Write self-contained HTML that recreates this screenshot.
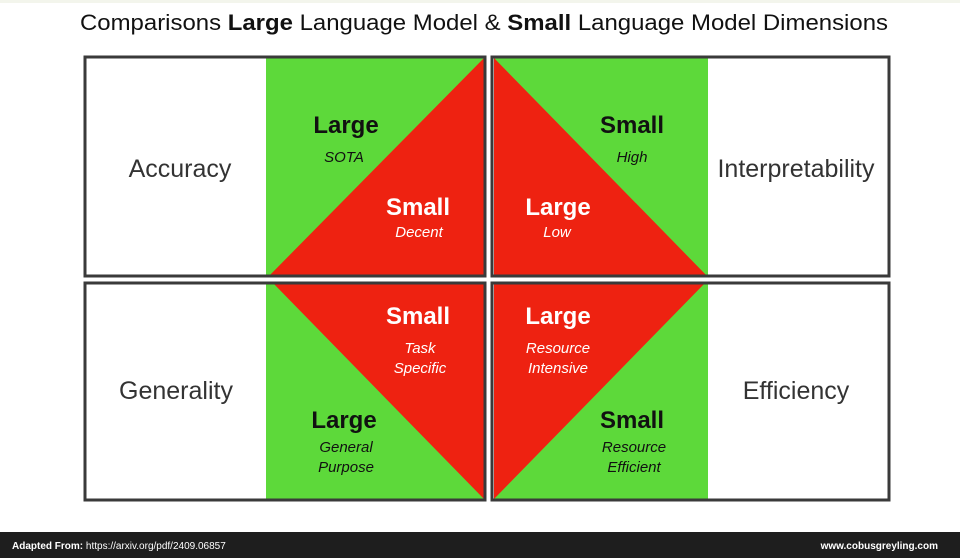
<!DOCTYPE html>
<html><head><meta charset="utf-8"><style>
html,body{margin:0;padding:0;background:#fff;}
svg{display:block;font-family:"Liberation Sans",Arial,sans-serif;}
</style></head><body>
<svg width="960" height="558" viewBox="0 0 960 558" xmlns="http://www.w3.org/2000/svg">
<rect width="960" height="558" fill="#fff"/>
<rect x="0" y="0" width="960" height="3" fill="#f3f5ec"/>
<text x="80" y="30" font-size="22" fill="#111" textLength="808" lengthAdjust="spacingAndGlyphs">Comparisons <tspan font-weight="bold">Large</tspan> Language Model &amp; <tspan font-weight="bold">Small</tspan> Language Model Dimensions</text>

<rect x="266" y="58" width="218" height="219" fill="#5dd93a"/>
<rect x="494" y="58" width="214" height="219" fill="#5dd93a"/>
<rect x="266" y="282" width="218" height="217" fill="#5dd93a"/>
<rect x="494" y="282" width="214" height="217" fill="#5dd93a"/>
<polygon points="484,58 484,277 268,277" fill="#ee2211"/>
<polygon points="494,58 494,277 708,277" fill="#ee2211"/>
<polygon points="272,282 484,282 484,499" fill="#ee2211"/>
<polygon points="494,282 706,282 494,499" fill="#ee2211"/>

<g fill="none" stroke="#3a3a3a" stroke-width="3">
<rect x="85" y="57" width="400" height="219"/>
<rect x="492" y="57" width="397" height="219"/>
<rect x="85" y="283" width="400" height="217"/>
<rect x="492" y="283" width="397" height="217"/>
</g>

<g font-size="25" fill="#333" text-anchor="middle">
<text x="180" y="177">Accuracy</text>
<text x="796" y="177">Interpretability</text>
<text x="176" y="399">Generality</text>
<text x="796" y="399">Efficiency</text>
</g>

<g text-anchor="middle">
<text x="346" y="133" font-size="24" font-weight="bold" fill="#111">Large</text>
<text x="344" y="162" font-size="15" font-style="italic" fill="#111">SOTA</text>
<text x="418" y="215" font-size="24" font-weight="bold" fill="#fff">Small</text>
<text x="419" y="237" font-size="15" font-style="italic" fill="#fff">Decent</text>

<text x="632" y="133" font-size="24" font-weight="bold" fill="#111">Small</text>
<text x="632" y="162" font-size="15" font-style="italic" fill="#111">High</text>
<text x="558" y="215" font-size="24" font-weight="bold" fill="#fff">Large</text>
<text x="557" y="237" font-size="15" font-style="italic" fill="#fff">Low</text>

<text x="418" y="324" font-size="24" font-weight="bold" fill="#fff">Small</text>
<text x="420" y="353" font-size="15" font-style="italic" fill="#fff">Task</text>
<text x="420" y="373" font-size="15" font-style="italic" fill="#fff">Specific</text>
<text x="344" y="428" font-size="24" font-weight="bold" fill="#111">Large</text>
<text x="346" y="452" font-size="15" font-style="italic" fill="#111">General</text>
<text x="346" y="472" font-size="15" font-style="italic" fill="#111">Purpose</text>

<text x="558" y="324" font-size="24" font-weight="bold" fill="#fff">Large</text>
<text x="558" y="353" font-size="15" font-style="italic" fill="#fff">Resource</text>
<text x="558" y="373" font-size="15" font-style="italic" fill="#fff">Intensive</text>
<text x="632" y="428" font-size="24" font-weight="bold" fill="#111">Small</text>
<text x="634" y="452" font-size="15" font-style="italic" fill="#111">Resource</text>
<text x="634" y="472" font-size="15" font-style="italic" fill="#111">Efficient</text>
</g>

<rect x="0" y="532" width="960" height="26" fill="#1e1e1e"/>
<text x="12" y="549" font-size="10" fill="#fff"><tspan font-weight="bold">Adapted From:</tspan> https://arxiv.org/pdf/2409.06857</text>
<text x="938" y="549" font-size="10" font-weight="bold" fill="#fff" text-anchor="end">www.cobusgreyling.com</text>
</svg>
</body></html>
